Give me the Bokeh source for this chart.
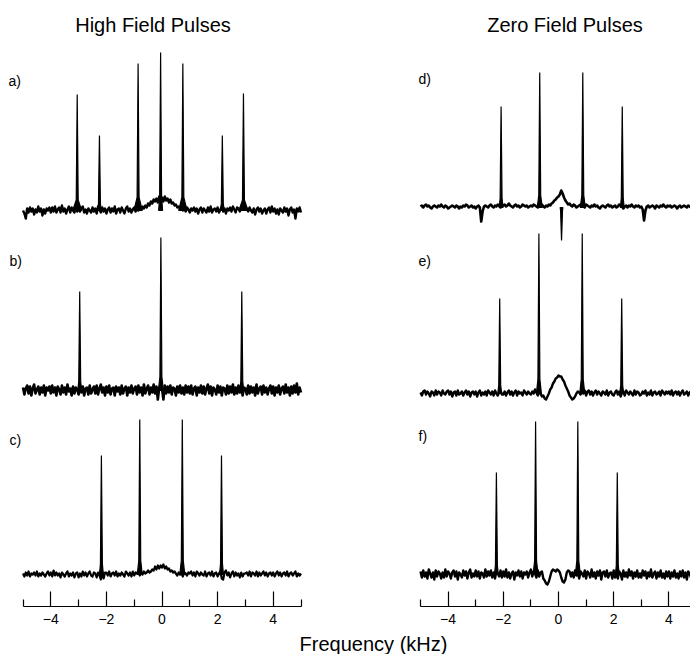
import numpy as np
from bokeh.plotting import figure
from bokeh.models import LinearAxis, FixedTicker, Range1d, Label
from bokeh.layouts import row, column
from bokeh.embed import file_html
from bokeh.resources import INLINE

# ---------------- data ----------------
titles = ["High Field Pulses", "Zero Field Pulses"]
x_label = "Frequency (kHz)"
panel_labels = ["a)", "b)", "c)", "d)", "e)", "f)"]
freq_ticks = [-4, -2, 0, 2, 4]
freq_minor = [-5, -3, -1, 1, 3, 5]

noise_start = -5.0
noise_step = 0.05

noise_a = [0, -3, -8, 2, -2, 3, -1, 2, -4, 1, -2, 4, -1, 2, -5, 1, -3, 2, 0, 3,
           -2, 3, -1, 4, -2, 1, 3, -2, 5, -1, 2, -3, 1, 4, -2, 3, 0, -2, 4, -1,
           3, -1, 2, 4, -2, 1, -3, 2, 0, -2, 3, -1, 2, -3, 4, 1, -2, 3, -1, 2,
           -3, 1, 3, -2, 2, -1, 4, -3, 1, 2, -2, 3, 0, -3, 2, 4, -1, 2, -2, 1,
           3, -1, 2, 0, 3, 1, 4, 2, 5, 3, 7, 5, 9, 7, 11, 9, 12, 8, 14, 11,
           13, 9, 14, 10, 12, 8, 11, 7, 8, 5, 6, 3, 4, 2, 3, 0, 2, -1, 3, 1,
           -2, 2, 0, 3, -1, 2, -3, 1, 3, -2, 2, 0, -2, 3, -1, 4, -2, 1, 2, -1,
           3, -2, 1, 4, -1, 2, -3, 2, 0, 3, -1, 4, 1, -2, 3, 2, -1, 4, 2, 1,
           3, 2, -1, 3, 0, -2, 2, -4, 1, 3, -1, 2, -3, 0, 2, -3, 1, 3, -2, 4,
           -1, 2, -3, 1, -4, 2, 0, -2, 3, -1, 2, -5, 1, 3, -2, 1, -8, 2, -1, 3,
           -2]
noise_b = [3, -4, 2, 5, -3, 4, -5, 2, 6, -3, 1, 4, -4, 3, -2, 5, -5, 3, 0, 4,
           -3, 5, -2, 3, -5, 4, 1, -4, 5, -2, 3, -4, 6, -1, 2, -5, 4, -3, 3, 1,
           -4, 5, -2, 4, -5, 2, 3, -4, 5, -3, 1, 4, -3, 5, -4, 2, 6, -2, 3, -5,
           4, -2, 5, -4, 2, 3, -5, 4, -1, 3, -4, 5, -3, 2, 4, -5, 3, -2, 5, -3,
           2, 4, -4, 5, -2, 3, -5, 6, -3, 2, 5, -4, 3, -2, 6, -3, 4, -9, 3, 1,
           2, -9, 5, -3, 4, -2, 5, -4, 3, 2, -5, 4, -2, 5, -3, 3, -4, 5, -2, 4,
           -3, 5, -4, 2, 4, -5, 3, -2, 5, -3, 4, -4, 2, 6, -3, 4, -5, 3, 1, -4,
           5, -2, 4, -5, 3, 2, -4, 5, -3, 4, -2, 6, -4, 3, -3, 5, -2, 4, -5, 3,
           2, -4, 5, -3, 4, -2, 3, -5, 6, -3, 2, 4, -4, 5, -2, 3, -4, 2, 5, -3,
           4, -5, 3, -2, 5, -4, 2, 4, -3, 6, -2, 3, -5, 4, -3, 5, -2, 7, -4, 3,
           -2]
noise_c = [1, -2, 2, -1, 3, -2, 1, 0, 2, -1, 3, -2, 1, -1, 2, 0, -2, 1, 3, -1,
           2, -2, 4, -1, 2, -1, 1, -3, 2, 0, -2, 1, 3, -2, 1, -1, 2, -3, 1, 2,
           -3, 1, -2, 3, -1, 2, -2, 1, 3, -1, -2, 2, 1, -3, 2, -1, -5, 3, -4, 2,
           2, -1, 3, -2, 1, 2, -1, 3, -2, 1, -1, 2, 0, -2, 3, 1, -1, 2, -2, 3,
           -1, 2, 1, 3, -1, 2, 0, 3, 1, 2, 4, 2, 3, 5, 4, 8, 5, 9, 6, 9,
           7, 10, 6, 8, 5, 6, 3, 4, 2, 3, 1, -1, 2, 0, 1, -2, 2, 1, -1, 2,
           1, 3, -1, 2, -2, 3, 1, -1, 2, 0, -1, 3, -2, 1, 2, -1, 3, -2, 1, 2,
           -2, 1, 3, -4, -5, 2, 4, -1, 2, -3, 1, 3, -2, 2, -1, 1, -3, 2, -2, 1,
           1, 2, -1, 3, -2, 2, 1, -1, 3, -2, 2, -1, 1, 3, -1, 2, -2, 1, 2, -1,
           2, -2, 1, 3, -1, 2, -2, 1, 2, -1, 3, -2, 1, 2, -1, 1, 3, -2, 1, -1,
           1]
noise_d = [1, 2, 0, 2, 3, 1, 2, 0, -1, 1, 2, 1, 0, 2, 1, 3, 1, 0, 2, 1,
           -1, 0, 1, 2, 1, 0, 2, 1, -1, 1, 0, 2, 1, 3, 2, 0, 1, 2, 0, 1,
           -1, 1, 2, 0, -14, -4, 1, 2, 1, 0, 2, 3, 1, 0, 2, 1, 3, 2, 0, 1,
           2, 3, 1, 2, 4, 2, 1, 0, 2, 3, 1, 2, 0, 1, 3, 2, 1, 2, 0, 1,
           2, 1, 3, 2, 1, 0, 2, 1, 3, 1, 0, 2, 1, 3, 2, 4, 5, 7, 8, 10,
           11, 13, 17, 14, 10, 7, 5, 3, 4, 2, 1, 3, 2, 0, 1, 2, 3, 1, 2, 0,
           3, 2, 1, 0, 2, 1, 3, 1, 2, 0, -1, 1, 2, 1, 0, 2, 3, 1, 2, 0,
           1, 2, 0, 1, 3, 2, 1, -1, 1, 2, 0, 2, 1, 3, 1, 0, 2, 1, 2, 0,
           1, -2, -13, -3, 1, 2, 0, 1, 2, 1, -1, 2, 1, 0, 2, 1, 3, 1, 0, 2,
           1, 2, 0, 1, 2, 1, -1, 1, 2, 0, 1, 2, 1, 0, 2, 1, 0, 2, 1, 0,
           2]
noise_e = [1, -2, 2, 3, -1, 2, 0, -3, 2, 1, -2, 3, -1, 2, 1, -2, 3, 0, -1, 2,
           3, -1, 2, -3, 1, 2, -2, 3, -1, 0, 2, -2, 1, 3, -1, 2, -3, 1, 2, -1,
           2, -3, 1, 3, -2, 1, -1, 2, -2, 3, 1, -1, 2, -2, 3, 0, -2, 1, 3, -1,
           -1, 2, -2, 1, 3, -1, 2, -2, 1, 3, -2, 2, 0, 1, -2, 3, 1, -1, 2, 0,
           -1, 2, 0, 4, 1, -2, 2, 0, -3, -2, -5, -6, -3, 0, 4, 6, 10, 12, 15, 16,
           18, 17, 17, 14, 12, 8, 5, 2, -2, -4, -6, -5, -3, 0, 2, 1, -1, 2, 0, 3,
           -2, 2, 3, -1, 2, -2, 1, 3, -1, 2, 0, -2, 2, 1, -1, 3, -2, 1, 2, -1,
           -2, 1, 3, -1, 2, -3, 1, 2, -2, 3, 1, -1, 2, 0, -2, 3, -1, 2, 1, -2,
           -1, 2, 0, 3, -2, 1, -1, 3, -2, 1, 2, -1, 0, 2, -2, 3, 1, -1, 2, 0,
           2, -1, 3, -2, 1, 2, -1, 2, -2, 1, 3, -1, 0, 2, -2, 1, 2, -1, 1, 0,
           0]
noise_f = [3, -3, 4, -2, 2, -4, 5, 1, -3, 2, -5, 4, -2, 3, 1, -4, 2, -3, 5, -2,
           3, 1, -4, 2, 4, -2, 3, -5, 2, 0, -3, 4, -1, 3, -4, 2, 5, -3, 1, -2,
           4, -2, 3, -4, 2, 1, -3, 5, -2, 3, -1, 4, -3, 2, -4, 3, 1, -2, 4, -3,
           3, -2, 5, -3, 2, -4, 1, 3, -5, 2, -1, 4, -2, 3, -4, 2, 0, 3, -3, 2,
           5, -2, 3, 1, -3, 4, -2, 2, 3, -4, -6, -9, -10, -7, -2, 3, 5, 4, 3, 5,
           4, 2, -3, -7, -8, -5, 2, 4, 3, -2, 2, -3, 4, -1, 2, -4, 3, 1, -2, 4,
           -4, 3, 1, -3, 5, -2, 2, -4, 3, -1, 4, -5, 2, 3, -2, 4, -3, 1, 2, -4,
           4, -3, 2, -4, 3, 1, -5, 4, -2, 2, -3, 5, -1, 3, -4, 2, -2, 4, -3, 1,
           -3, 4, -1, 3, -4, 2, -2, 5, -3, 1, 3, -4, 2, -2, 4, -3, 1, -4, 3, -2,
           3, -4, 2, -2, 4, -3, 1, -4, 3, -2, 4, -3, 2, -5, 3, 1, -3, 4, -2, 3,
           2]

peaks_a_pos = [-3.05, -2.25, -0.86, -0.05, 0.75, 2.17, 2.93]
peaks_a_h = [116, 75, 147, 158, 147, 75, 117]
peaks_a_wing = [0.16, 0.07, 0.15, 0.07, 0.15, 0.07, 0.16]

peaks_b_pos = [-2.96, -0.04, 2.87]
peaks_b_h = [99, 153, 99]
peaks_b_wing = [0.07, 0.09, 0.07]

peaks_c_pos = [-2.18, -0.8, 0.73, 2.14]
peaks_c_h = [119, 155, 155, 119]
peaks_c_wing = [0.07, 0.09, 0.09, 0.07]

peaks_d_pos = [-2.08, -0.68, 0.88, 2.31, 0.11]
peaks_d_h = [101, 135, 135, 101, -33]
peaks_d_wing = [0.07, 0.09, 0.09, 0.07, 0.05]

peaks_e_pos = [-2.13, -0.71, 0.86, 2.29]
peaks_e_h = [95, 160, 160, 95]
peaks_e_wing = [0.07, 0.09, 0.09, 0.07]

peaks_f_pos = [-2.25, -0.83, 0.70, 2.13]
peaks_f_h = [102, 153, 153, 102]
peaks_f_wing = [0.07, 0.09, 0.09, 0.07]

# ---------------- layout constants ----------------
FONT = "Liberation Sans"
FRAME_H = 606          # px, frame height (1 data unit = 1 px vertically)
BOTTOM = 26
STRIP_H = 22
LEFT_W, RIGHT_W = 345, 345
L_X0, L_SCALE = 22.5, 27.8   # px of x=-5 from figure left, px per kHz
R_X0, R_SCALE = 75.0, 27.6

left_offsets = [396, 216, 32]
right_offsets = [399, 213, 32]
left_widths = [2.4, 2.6, 2.2]
right_widths = [2.6, 2.4, 2.4]


def make_col(width, x0px, scale):
    start = -5.0 - x0px / scale
    end = start + width / scale
    p = figure(width=width, height=FRAME_H + BOTTOM,
               x_range=Range1d(start, end), y_range=Range1d(0, FRAME_H),
               output_backend="svg", toolbar_location=None,
               x_axis_location=None, y_axis_location=None,
               min_border_left=0, min_border_right=0,
               min_border_top=0, min_border_bottom=BOTTOM)
    p.outline_line_color = None
    p.grid.visible = False
    p.background_fill_color = "white"
    p.border_fill_color = "white"
    ax = LinearAxis(ticker=FixedTicker(ticks=freq_ticks, minor_ticks=freq_minor),
                    bounds=(-5, 5))
    ax.axis_line_color = "black"
    ax.axis_line_width = 1.2
    ax.major_tick_in = 15
    ax.major_tick_out = 0
    ax.minor_tick_in = 7
    ax.minor_tick_out = 0
    ax.major_tick_line_width = 1.2
    ax.minor_tick_line_width = 1.2
    ax.major_label_text_font = FONT
    ax.major_label_text_font_size = "14px"
    ax.major_label_text_color = "black"
    ax.major_label_standoff = 7
    p.add_layout(ax, "below")
    return p


def draw_panel(p, noise, pos, h, wing, base, lw):
    xs_n = noise_start + noise_step * np.arange(len(noise))
    p.line(xs_n, np.asarray(noise, dtype=float) + base, line_color="black",
           line_width=lw, line_join="round")
    stem = 0.035
    frac = 0.09
    xs, ys = [], []
    for x0, hh, w in zip(pos, h, wing):
        xs.append([x0 - w, x0 - stem, x0, x0 + stem, x0 + w])
        ys.append([base, base + frac * hh, base + hh, base + frac * hh, base])
    p.patches(xs, ys, fill_color="black", line_color="black", line_width=1.2)


pl = make_col(LEFT_W, L_X0, L_SCALE)
pr = make_col(RIGHT_W, R_X0, R_SCALE)

left_data = [(noise_a, peaks_a_pos, peaks_a_h, peaks_a_wing),
             (noise_b, peaks_b_pos, peaks_b_h, peaks_b_wing),
             (noise_c, peaks_c_pos, peaks_c_h, peaks_c_wing)]
right_data = [(noise_d, peaks_d_pos, peaks_d_h, peaks_d_wing),
              (noise_e, peaks_e_pos, peaks_e_h, peaks_e_wing),
              (noise_f, peaks_f_pos, peaks_f_h, peaks_f_wing)]

for (n, ps, hs, ws), off, lw in zip(left_data, left_offsets, left_widths):
    draw_panel(pl, n, ps, hs, ws, off, lw)
for (n, ps, hs, ws), off, lw in zip(right_data, right_offsets, right_widths):
    draw_panel(pr, n, ps, hs, ws, off, lw)

# titles
pl.add_layout(Label(x=152.5, y=582, x_units="screen", y_units="screen", text=titles[0],
                    text_font=FONT, text_font_size="20px", text_color="black",
                    text_align="center", text_baseline="middle"))
pr.add_layout(Label(x=219.5, y=582, x_units="screen", y_units="screen", text=titles[1],
                    text_font=FONT, text_font_size="20px", text_color="black",
                    text_align="center", text_baseline="middle"))

# panel labels
left_label_pos = [(8, 526), (9, 346), (9, 167)]
right_label_pos = [(73, 528), (73, 346), (73, 171)]
for lab, (lx, ly) in zip(panel_labels[:3], left_label_pos):
    pl.add_layout(Label(x=lx, y=ly, x_units="screen", y_units="screen", text=lab,
                        text_font=FONT, text_font_size="14px", text_color="black",
                        text_align="left", text_baseline="middle"))
for lab, (lx, ly) in zip(panel_labels[3:], right_label_pos):
    pr.add_layout(Label(x=lx, y=ly, x_units="screen", y_units="screen", text=lab,
                        text_font=FONT, text_font_size="14px", text_color="black",
                        text_align="left", text_baseline="middle"))

# bottom strip with the shared x label
pb = figure(width=LEFT_W + RIGHT_W, height=STRIP_H, x_range=Range1d(0, 1), y_range=Range1d(0, 1),
            output_backend="svg", toolbar_location=None,
            x_axis_location=None, y_axis_location=None,
            min_border_left=0, min_border_right=0, min_border_top=0, min_border_bottom=0)
pb.outline_line_color = None
pb.grid.visible = False
pb.add_layout(Label(x=373, y=11, x_units="screen", y_units="screen", text=x_label,
                    text_font=FONT, text_font_size="20px", text_color="black",
                    text_align="center", text_baseline="middle"))

layout = column(row(pl, pr, spacing=0), pb, spacing=0)
open("out.html", "w").write(file_html(layout, INLINE))
